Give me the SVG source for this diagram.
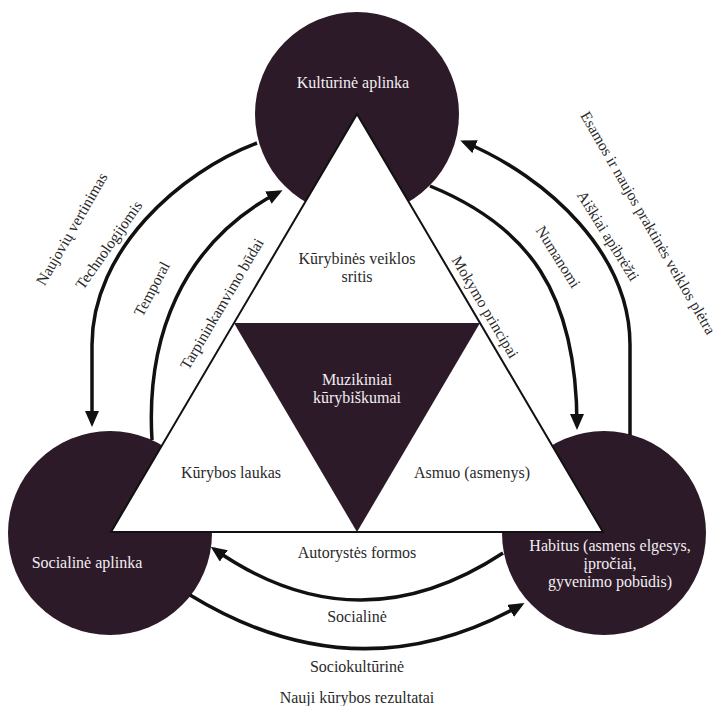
<svg xmlns="http://www.w3.org/2000/svg" width="719" height="706" viewBox="0 0 719 706">
<defs>
<style>
.node{fill:#2c1a28}
.tri{fill:#fff;stroke:#111;stroke-width:2;stroke-linejoin:miter}
.conn{fill:none;stroke:#111;stroke-width:3.5}
text{font-family:"Liberation Serif","Times New Roman",serif;font-size:16px;text-anchor:middle}
.rot{font-size:15.5px}
.lt{fill:#f2eef2}
.dk{fill:#2a2a2a}
</style>
<marker id="ah" viewBox="0 0 16 14" refX="12" refY="7" markerWidth="16" markerHeight="14" markerUnits="userSpaceOnUse" orient="auto">
<path d="M0,0 L16,7 L0,14 z" fill="#111"/>
</marker>
</defs>
<rect width="719" height="706" fill="#fff"/>
<g id="node-kulturine-aplinka">
<circle class="node" cx="357" cy="114" r="102"/>
</g>
<g id="node-socialine-aplinka">
<circle class="node" cx="110" cy="533" r="102"/>
</g>
<g id="node-habitus">
<circle class="node" cx="604" cy="533" r="102"/>
</g>
<g id="connectors">
<path class="conn" d="M257,143 C180,172 92,250 92,345 L92,423" marker-end="url(#ah)"/>
<path class="conn" d="M152,440 C146,340 180,244 279,192" marker-end="url(#ah)"/>
<path class="conn" d="M630,435 L630,345 C630,255 550,178 464,142" marker-end="url(#ah)"/>
<path class="conn" d="M430,186 C528,226 577,292 577,426" marker-end="url(#ah)"/>
<path class="conn" d="M503,553 Q357,649 214,549" marker-end="url(#ah)"/>
<path class="conn" d="M190,595 Q357,697 521,605" marker-end="url(#ah)"/>
</g>
<g id="node-triangle">
<polygon class="tri" points="357,114 603,532 111,532"/>
</g>
<g id="node-muzikiniai">
<polygon class="node" points="234,323 480,323 357,532"/>
</g>
<g id="labels">
<text class="lt" x="353" y="88">Kultūrinė aplinka</text>
<text class="lt" x="87" y="568">Socialinė aplinka</text>
<text class="lt" x="610" y="551">Habitus (asmens elgesys,</text>
<text class="lt" x="610" y="569">įpročiai,</text>
<text class="lt" x="610" y="587">gyvenimo pobūdis)</text>
<text class="dk" x="357" y="264">Kūrybinės veiklos</text>
<text class="dk" x="357" y="282">sritis</text>
<text class="lt" x="357" y="385">Muzikiniai</text>
<text class="lt" x="357" y="403">kūrybiškumai</text>
<text class="dk" x="231" y="478">Kūrybos laukas</text>
<text class="dk" x="472" y="478">Asmuo (asmenys)</text>
<text class="dk" x="357" y="558">Autorystės formos</text>
<text class="dk" x="357" y="622">Socialinė</text>
<text class="dk" x="357" y="672">Sociokultūrinė</text>
<text class="dk" x="357" y="703">Nauji kūrybos rezultatai</text>
<text class="dk rot" transform="translate(72,229) rotate(-60)" y="5">Naujovių vertinimas</text>
<text class="dk rot" transform="translate(109,245) rotate(-55)" y="5">Technologijomis</text>
<text class="dk rot" transform="translate(152,289) rotate(-62)" y="5">Temporal</text>
<text class="dk rot" transform="translate(222,304) rotate(-59.5)" y="5">Tarpininkamvimo būdai</text>
<text class="dk rot" transform="translate(485,307) rotate(59.5)" y="5">Mokymo principai</text>
<text class="dk rot" transform="translate(558,257) rotate(58)" y="5">Numanomi</text>
<text class="dk rot" transform="translate(608,236) rotate(58)" y="5">Aiškiai apibrėžti</text>
<text class="dk rot" transform="translate(648,223) rotate(60)" y="5">Esamos ir naujos praktinės veiklos plėtra</text>
</g>
</svg>
